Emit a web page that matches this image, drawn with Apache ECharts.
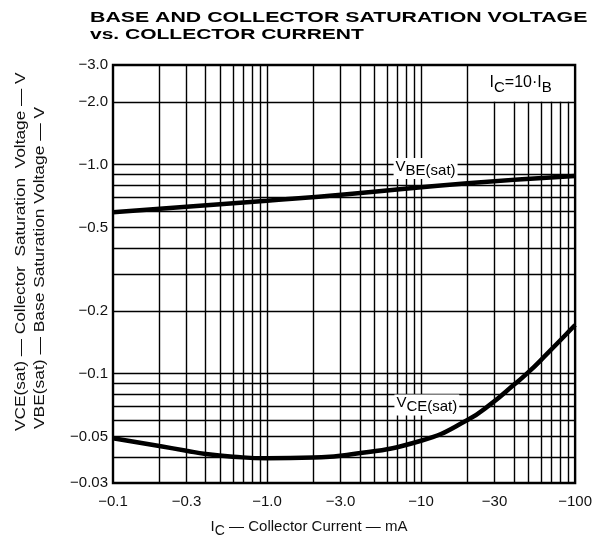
<!DOCTYPE html>
<html>
<head>
<meta charset="utf-8">
<script src="https://cdn.jsdelivr.net/npm/echarts@6/dist/echarts.min.js"></script>
<style>html,body{margin:0;padding:0;background:#fff;}#c{width:595px;height:539px;}</style>
</head>
<body>
<div id="c"></div>
<script>
// ---- data ----
const xTickValues = [0.1, 0.3, 1.0, 3.0, 10, 30, 100];
const xTickLabels = ['\u22120.1', '\u22120.3', '\u22121.0', '\u22123.0', '\u221210', '\u221230', '\u2212100'];
const yTickValues = [0.03, 0.05, 0.1, 0.2, 0.5, 1.0, 2.0, 3.0];
const yTickLabels = ['\u22120.03', '\u22120.05', '\u22120.1', '\u22120.2', '\u22120.5', '\u22121.0', '\u22122.0', '\u22123.0'];
const xGridValues = [0.2,0.3,0.4,0.5,0.6,0.7,0.8,0.9,1,2,3,4,5,6,7,8,9,10,20,30,40,50,60,70,80,90];
const yGridValues = [0.04,0.05,0.06,0.07,0.08,0.09,0.1,0.2,0.3,0.4,0.5,0.6,0.7,0.8,0.9,1.0,2.0];
const vbeCurrent = [0.1, 0.3, 1.0, 3.3, 20, 100];
const vbeVoltage = [0.592, 0.63, 0.673, 0.722, 0.815, 0.883];
const vceCurrent = [0.1, 0.2, 0.3, 0.4, 0.6, 1.0, 2.0, 3.3, 10, 20, 29, 40, 50, 64, 100];
const vceVoltage = [0.0491, 0.0451, 0.0428, 0.0413, 0.0401, 0.0394, 0.0397, 0.0408, 0.0478, 0.0600, 0.0725, 0.0885, 0.102, 0.122, 0.171];
const xMin = 0.1, xMax = 100, yMin = 0.03, yMax = 3.0;

const lg = Math.log10;
function lookup(vals, labels, v) {
  for (let i = 0; i < vals.length; i++) if (Math.abs(lg(vals[i]) - v) < 1e-6) return labels[i];
  return '';
}
const FONT = '"Liberation Sans", Arial, sans-serif';

const gridLines = [];
xGridValues.forEach(v => {
  const top = (v > 20 && v < 100) ? 2.0 : yMax;
  gridLines.push([{coord: [lg(v), lg(yMin)]}, {coord: [lg(v), lg(top)]}]);
});
yGridValues.forEach(v => {
  gridLines.push([{coord: [lg(xMin), lg(v)]}, {coord: [lg(xMax), lg(v)]}]);
});

const chart = echarts.init(document.getElementById('c'), null, {renderer: 'canvas'});
chart.setOption({
  animation: false,
  backgroundColor: '#fff',
  grid: {left: 113, right: 15, top: 65, bottom: 56, show: true, borderColor: '#000', borderWidth: 2.4, backgroundColor: 'transparent'},
  xAxis: {
    type: 'value', min: lg(xMin), max: lg(xMax),
    axisLine: {show: false},
    axisTick: {show: false},
    splitLine: {show: false},
    axisLabel: {
      customValues: xTickValues.map(lg),
      formatter: v => lookup(xTickValues, xTickLabels, v),
      margin: 11, fontSize: 15, fontFamily: FONT, color: '#111'
    }
  },
  yAxis: {
    type: 'value', min: lg(yMin), max: lg(yMax),
    axisLine: {show: false},
    axisTick: {show: false},
    splitLine: {show: false},
    axisLabel: {
      customValues: yTickValues.map(lg),
      formatter: v => lookup(yTickValues, yTickLabels, v),
      margin: 5, fontSize: 15, fontFamily: FONT, color: '#111'
    }
  },
  series: [
    {
      type: 'line', z: 1, silent: true, symbol: 'none',
      data: [[lg(xMin), lg(yMin)]], lineStyle: {width: 0},
      markLine: {
        silent: true, symbol: ['none', 'none'], animation: false,
        label: {show: false},
        lineStyle: {color: '#000', width: 1.4, type: 'solid'},
        emphasis: {disabled: true},
        data: gridLines
      }
    },
    {
      name: 'VBE(sat)', type: 'line', z: 3, smooth: 0.5, symbol: 'none', silent: true,
      lineStyle: {color: '#000', width: 4.5},
      data: vbeCurrent.map((c, i) => [lg(c), lg(vbeVoltage[i])])
    },
    {
      name: 'VCE(sat)', type: 'line', z: 3, smooth: 0.5, symbol: 'none', silent: true,
      lineStyle: {color: '#000', width: 4.5},
      data: vceCurrent.map((c, i) => [lg(c), lg(vceVoltage[i])])
    },
    {
      type: 'scatter', z: 5, symbolSize: 0, silent: true, clip: false,
      itemStyle: {opacity: 1},
      emphasis: {disabled: true},
      data: [
        {value: [lg(10.7), lg(0.96)], label: {formatter: '{v|V}{s|BE(sat)}'}},
        {value: [lg(10.9), lg(0.0708)], label: {formatter: '{v|V}{s|CE(sat)}'}},
        {value: [lg(44.3), lg(2.41)], label: {formatter: '{n|I}{b|C}{n|=10\u00b7I}{b|B}', backgroundColor: '#fff'}}
      ],
      label: {
        show: true, position: 'inside', color: '#000', backgroundColor: '#fff', padding: [1, 2], opacity: 1,
        fontFamily: FONT,
        rich: {
          v: {fontSize: 15, fontFamily: FONT, color: '#000', verticalAlign: 'bottom', padding: [0, 0, 4, 0]},
          s: {fontSize: 15, fontFamily: FONT, color: '#000', verticalAlign: 'bottom'},
          n: {fontSize: 16, fontFamily: FONT, color: '#000', verticalAlign: 'bottom', padding: [0, 0, 4, 0]},
          b: {fontSize: 15, fontFamily: FONT, color: '#000', verticalAlign: 'bottom'}
        }
      }
    }
  ],
  graphic: [
    {type: 'text', x: 90, y: 18, scaleX: 1.42, style: {text: 'BASE AND COLLECTOR SATURATION VOLTAGE', font: 'bold 15px ' + FONT, fill: '#000', textAlign: 'left', textVerticalAlign: 'middle'}},
    {type: 'text', x: 90, y: 35, scaleX: 1.4, style: {text: 'vs. COLLECTOR CURRENT', font: 'bold 15px ' + FONT, fill: '#000', textAlign: 'left', textVerticalAlign: 'middle'}},
    {type: 'text', x: 21, y: 431, rotation: Math.PI / 2, scaleX: 1.15, style: {text: 'VCE(sat) \u2014 Collector  Saturation  Voltage \u2014 V', font: '15px ' + FONT, fill: '#111', textAlign: 'left', textVerticalAlign: 'middle'}},
    {type: 'text', x: 40, y: 429, rotation: Math.PI / 2, scaleX: 1.16, style: {text: 'VBE(sat) \u2014 Base Saturation Voltage \u2014 V', font: '15px ' + FONT, fill: '#111', textAlign: 'left', textVerticalAlign: 'middle'}},
    {type: 'text', x: 309, y: 529, style: {
      text: '{n|I}{s|C}{n| \u2014 Collector Current \u2014 mA}',
      textAlign: 'center', textVerticalAlign: 'middle', fill: '#111',
      rich: {
        n: {fontSize: 15, fontFamily: FONT, fill: '#111', verticalAlign: 'bottom', padding: [0, 0, 4, 0]},
        s: {fontSize: 14, fontFamily: FONT, fill: '#111', verticalAlign: 'bottom'}
      }
    }}
  ]
});
</script>
</body>
</html>
